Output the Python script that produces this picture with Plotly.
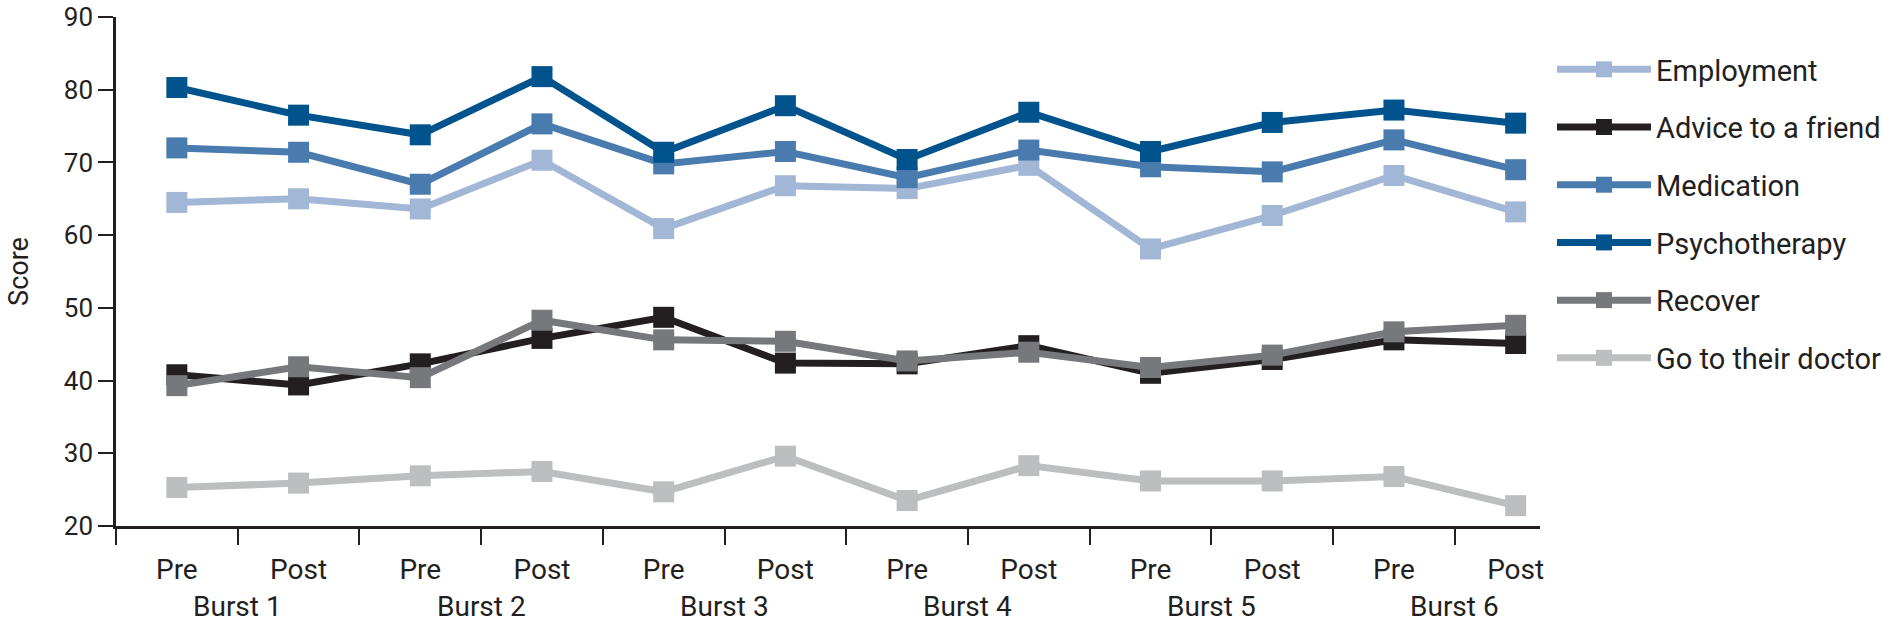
import plotly.graph_objects as go

phases = ["Pre", "Post"] * 6
bursts = ["Burst 1", "Burst 2", "Burst 3", "Burst 4", "Burst 5", "Burst 6"]

employment = [64.5, 65.0, 63.6, 70.3, 60.9, 66.8, 66.4, 69.6, 58.1, 62.7, 68.2, 63.2]
advice = [40.8, 39.4, 42.3, 45.8, 48.7, 42.4, 42.3, 44.8, 41.0, 42.9, 45.6, 45.1]
medication = [72.0, 71.4, 67.0, 75.3, 69.8, 71.5, 67.9, 71.7, 69.4, 68.7, 73.1, 69.0]
psychotherapy = [80.3, 76.5, 73.8, 81.8, 71.4, 77.8, 70.4, 76.9, 71.5, 75.5, 77.2, 75.4]
recover = [39.3, 41.9, 40.4, 48.3, 45.6, 45.4, 42.7, 43.9, 41.8, 43.5, 46.7, 47.6]
doctor = [25.3, 25.9, 26.9, 27.5, 24.7, 29.6, 23.5, 28.3, 26.2, 26.2, 26.8, 22.8]

series = [
    ("Employment", employment, "#A2B7D6"),
    ("Advice to a friend", advice, "#231F20"),
    ("Medication", medication, "#4A7BAE"),
    ("Psychotherapy", psychotherapy, "#00538C"),
    ("Recover", recover, "#77787B"),
    ("Go to their doctor", doctor, "#BCBEC0"),
]

FONT = "Roboto"
TXT = "#231F20"
x = list(range(len(phases)))

fig = go.Figure()
for i, (name, vals, col) in enumerate(series):
    fig.add_trace(go.Scatter(
        x=x, y=vals, name=name, mode="lines+markers",
        line=dict(color=col, width=7),
        marker=dict(symbol="square", size=21, color=col, line=dict(width=0)),
        legendgroup=f"g{i}",
    ))

for j, b in enumerate(bursts):
    fig.add_annotation(x=2 * j + 0.5, xref="x", y=-0.159, yref="paper",
                       text=b, showarrow=False, yanchor="middle",
                       font=dict(family=FONT, size=28, color=TXT))

fig.update_layout(
    width=1882, height=626,
    margin=dict(l=116, r=342, t=17, b=100, autoexpand=False),
    paper_bgcolor="white", plot_bgcolor="white",
    font=dict(family=FONT, size=28, color=TXT),
    showlegend=True,
    legend=dict(x=1.0084, xanchor="left", y=0.947, yanchor="top",
                traceorder="grouped", tracegroupgap=17, itemwidth=94,
                font=dict(family=FONT, size=29, color=TXT),
                bgcolor="rgba(0,0,0,0)"),
    xaxis=dict(
        range=[-0.5, 11.2], tickvals=x, ticktext=phases,
        ticks="outside", ticklen=16, tickcolor="rgba(0,0,0,0)",
        ticklabelstandoff=1, automargin=False,
        showline=True, linecolor=TXT, linewidth=2.5,
        showgrid=False, zeroline=False,
        minor=dict(tickvals=[v - 0.5 for v in x], ticks="outside", ticklen=16,
                   tickcolor=TXT, tickwidth=2, showgrid=False),
        tickfont=dict(family=FONT, size=28, color=TXT),
    ),
    yaxis=dict(
        range=[20, 90], dtick=10, tick0=20,
        ticks="outside", ticklen=15, tickcolor=TXT, tickwidth=2,
        ticklabelstandoff=0, ticklabeloverflow="allow", automargin=False,
        showline=True, linecolor=TXT, linewidth=2.5,
        showgrid=False, zeroline=False,
        title=dict(text="Score", font=dict(family=FONT, size=27, color=TXT), standoff=28),
        tickfont=dict(family=FONT, size=26, color=TXT),
    ),
)

fig.write_html("out.html", config={"displayModeBar": False},
               post_script="document.body.style.margin='0';document.body.style.overflow='hidden';")
